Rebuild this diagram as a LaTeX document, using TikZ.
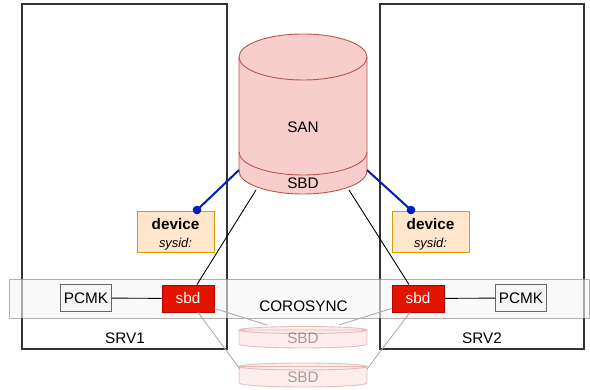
\documentclass[tikz,border=0pt]{standalone}
\usepackage{fontspec}
\setmainfont{Liberation Sans}
\usetikzlibrary{calc}
\definecolor{sanfill}{HTML}{F8CECC}
\definecolor{sanline}{HTML}{B85450}
\definecolor{sbdfill}{HTML}{E51400}
\definecolor{sbdline}{HTML}{B20000}
\definecolor{pcmkfill}{HTML}{F5F5F5}
\definecolor{pcmkline}{HTML}{666666}
\definecolor{devfill}{HTML}{FFE6CC}
\definecolor{devline}{HTML}{D79B00}
\definecolor{linkblue}{HTML}{001DBC}
\definecolor{srvline}{HTML}{333333}
\tikzset{
  x=1pt, y=1pt,
  lbl/.style={font=\fontsize{15.3}{18}\selectfont, inner sep=0pt},
  server/.style={draw=srvline, line width=1.3pt},
  band/.style={draw=black!60, draw opacity=0.5, fill=pcmkfill, fill opacity=0.6, line width=0.9pt},
  pcmkbox/.style={draw=pcmkline, fill=pcmkfill, line width=0.9pt, minimum width=51pt, minimum height=27pt, lbl},
  sbdbox/.style={draw=sbdline, fill=sbdfill, text=white, line width=0.9pt, minimum width=52pt, minimum height=27pt, lbl},
  devbox/.style={draw=devline, fill=devfill, line width=0.9pt, minimum width=77pt, minimum height=41pt},
  link/.style={draw=black, line width=0.9pt},
  fadelink/.style={draw=black!32, line width=0.9pt},
  bluelink/.style={draw=linkblue, line width=2pt},
  disk/.style={fill=sanfill, draw=sanline, line width=0.9pt},
}
\begin{document}
\begin{tikzpicture}
\useasboundingbox (0,0) rectangle (590,390);

% servers
\draw[server] (22,41) rectangle (227,386);
\draw[server] (380,41) rectangle (584,386);
\node[lbl] (srv1) at (125,52) {SRV1};
\node[lbl] (srv2) at (482,52) {SRV2};

% corosync band
\draw[band] (9,72) rectangle (589.5,111);
\node[lbl] (coro) at (303.5,84) {COROSYNC};

% shared storage
\path[disk] (239,333) -- (239,219) arc[start angle=180, end angle=360, x radius=64, y radius=23]
  -- (367,333) arc[start angle=0, end angle=180, x radius=64, y radius=23] -- cycle;
\draw[disk, fill=none] (239,333) arc[start angle=180, end angle=360, x radius=64, y radius=23];
\draw[disk, fill=none] (239,238) arc[start angle=180, end angle=360, x radius=64, y radius=23];
\node[lbl] (san) at (303,263) {SAN};
\node[lbl] (sbdpart) at (303,207) {SBD};
\coordinate (sanL) at (239,220);
\coordinate (sanR) at (367,220);
\coordinate (sanBL) at (256,200);
\coordinate (sanBR) at (349,200);

% faded disks
\begin{scope}[opacity=0.35]
  \path[disk] (239,60) -- (239,46) arc[start angle=180, end angle=360, x radius=64, y radius=4]
    -- (367,60) arc[start angle=0, end angle=180, x radius=64, y radius=3.5]
    arc[start angle=180, end angle=360, x radius=64, y radius=3.5] -- cycle;
  \node[lbl, text=black] (fade1) at (303,52) {SBD};
  \path[disk] (239,23.5) -- (239,7) arc[start angle=180, end angle=360, x radius=64, y radius=4]
    -- (367,23.5) arc[start angle=0, end angle=180, x radius=64, y radius=3.5]
    arc[start angle=180, end angle=360, x radius=64, y radius=3.5] -- cycle;
  \node[lbl, text=black] (fade2) at (303,13) {SBD};
\end{scope}
\coordinate (f1L) at (267,65);
\coordinate (f1R) at (339,65);
\coordinate (f2L) at (240,21);
\coordinate (f2R) at (367,21);

% node boxes
\node[pcmkbox] (pcmkL) at (86,92) {PCMK};
\node[sbdbox] (sbdL) at (188,91.5) {sbd};
\node[sbdbox] (sbdR) at (418,91.5) {sbd};
\node[pcmkbox] (pcmkR) at (521,92) {PCMK};

\node[devbox] (devL) at (175.5,158.5) {};
\node[devbox] (devR) at (430.5,158.5) {};
\node[font=\bfseries\fontsize{15.3}{18}\selectfont, inner sep=0pt] (devLt) at (175.5,166) {device};
\node[font=\itshape\fontsize{12.9}{15}\selectfont, inner sep=0pt] (devLs) at (175.5,146) {sysid:};
\node[font=\bfseries\fontsize{15.3}{18}\selectfont, inner sep=0pt] (devRt) at (430.5,166) {device};
\node[font=\itshape\fontsize{12.9}{15}\selectfont, inner sep=0pt] (devRs) at (430.5,146) {sysid:};

% connectors
\draw[link] (pcmkL) -- (sbdL);
\draw[link] (sbdR) -- (pcmkR);
\draw[link] ($(sbdL.north)+(9,0)$) -- (sanBL);
\draw[link] ($(sbdR.north)+(-9,0)$) -- (sanBR);
\draw[fadelink] ($(sbdL.south east)+(0,4)$) -- (f1L);
\draw[fadelink] ($(sbdL.south)+(10,0)$) -- (f2L);
\draw[fadelink] ($(sbdR.south west)+(0,4)$) -- (f1R);
\draw[fadelink] ($(sbdR.south)+(-8,0)$) -- (f2R);
\coordinate (dotL) at ($(devL.north)+(21.5,0.5)$);
\coordinate (dotR) at ($(devR.north)+(-19.5,0.5)$);
\draw[bluelink] (sanL) -- (dotL);
\draw[bluelink] (sanR) -- (dotR);
\fill[linkblue] (dotL) circle (4.3);
\fill[linkblue] (dotR) circle (4.3);
\end{tikzpicture}
\end{document}
